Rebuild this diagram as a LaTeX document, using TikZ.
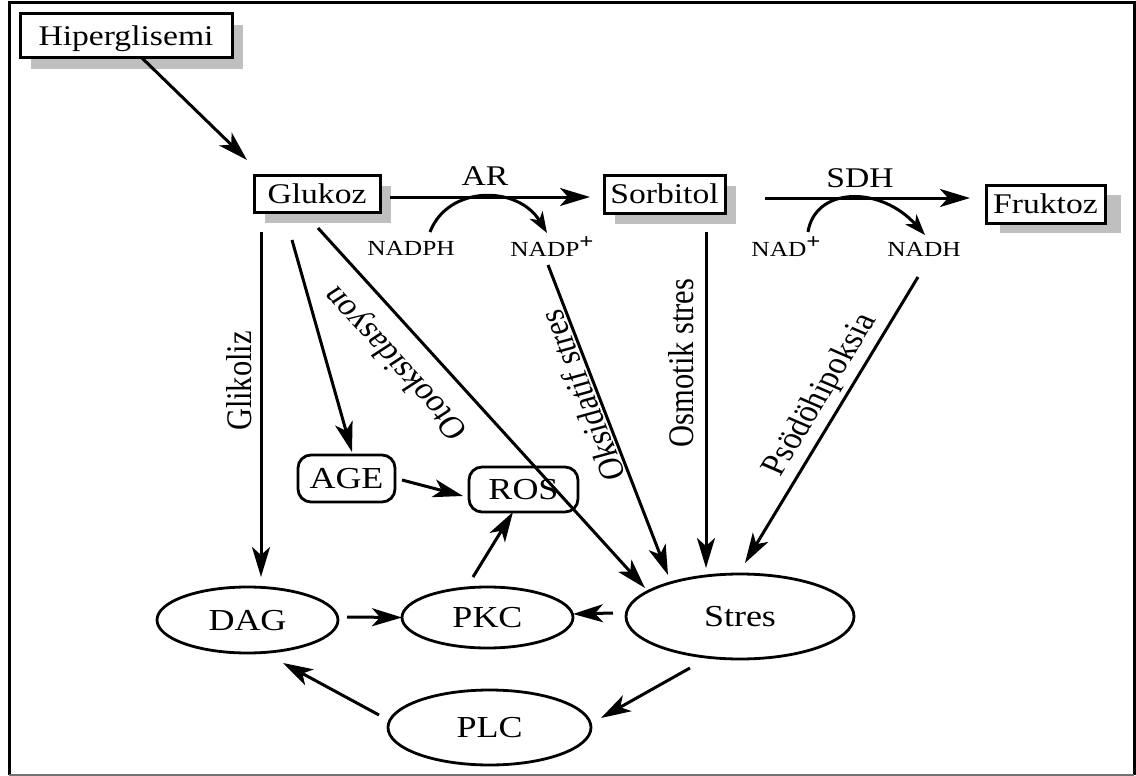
\documentclass[tikz,border=0pt]{standalone}
\usepackage{fontspec}
\setmainfont{Liberation Serif}
\usepackage{graphicx}
\usetikzlibrary{arrows.meta,calc,shapes.geometric,backgrounds}

% Times-like lettering, widened horizontally
\newcommand{\wide}[1]{\scalebox{1.18}[1]{#1}}
\newcommand{\ionplus}{\raisebox{0.36em}{\fontsize{21}{21}\selectfont\bfseries +}}

\begin{document}
\begin{tikzpicture}[x=1pt, y=-1pt,
  conn/.style={line width=3pt, -{Stealth[length=30pt,width=18pt,inset=8pt]}},
  cofactor/.style={line width=3pt, -{Stealth[length=21pt,width=15pt,inset=6pt]}},
  boxnode/.style={rectangle, draw, line width=3pt, fill=white, inner sep=0pt, outer sep=0pt,
      font=\fontsize{28.5}{30}\selectfont, text height=19pt, text depth=0pt},
  roundnode/.style={rectangle, rounded corners=13pt, draw, line width=2.8pt, inner sep=0pt, outer sep=0pt,
      font=\fontsize{30.5}{32}\selectfont, text height=20pt, text depth=0pt},
  ovalnode/.style={ellipse, draw, line width=2.8pt, inner sep=0pt, outer sep=0pt,
      font=\fontsize{30.5}{32}\selectfont, text height=20pt, text depth=0pt},
  enzyme/.style={inner sep=0pt, font=\fontsize{28.5}{30}\selectfont, text height=19pt, text depth=0pt},
  cofac/.style={inner sep=0pt, font=\fontsize{21.5}{23}\selectfont, text height=14.5pt, text depth=0pt},
  pathlabel/.style={inner sep=0pt, font=\fontsize{30.5}{32}\selectfont},
  shadowfill/.style={fill=black!25},
]
\useasboundingbox (0,0) rectangle (1136,776);

% outer frame
\draw[line width=3pt] (9,775) -- (9,3) -- (1134,3) -- (1134,775);
\draw[line width=2pt, black!55] (9,775) -- (1134,775);

% metabolites
\node[boxnode, minimum width=212pt, minimum height=44pt] (hyper) at (126,36) {\wide{Hiperglisemi}};
\node[boxnode, minimum width=126pt, minimum height=37pt] (glukoz) at (317,193.5) {\wide{Glukoz}};
\node[boxnode, minimum width=121pt, minimum height=38pt] (sorbitol) at (664.5,194) {\wide{Sorbitol}};
\node[boxnode, minimum width=119pt, minimum height=38pt] (fruktoz) at (1045.5,204) {\wide{Fruktoz}};

\node[roundnode, minimum width=97pt, minimum height=47pt] (age) at (346.5,478.5) {\wide{AGE}};
\node[roundnode, minimum width=109pt, minimum height=45pt] (ros) at (523.5,489.5) {\wide{ROS}};

\node[ovalnode, minimum width=181pt, minimum height=66pt] (dag) at (247.5,620) {\wide{DAG}};
\node[ovalnode, minimum width=171pt, minimum height=61pt] (pkc) at (487.5,617.5) {\wide{PKC}};
\node[ovalnode, minimum width=203pt, minimum height=75pt] (plc) at (489.5,727.5) {\wide{PLC}};
\node[ovalnode, minimum width=228pt, minimum height=85pt] (stres) at (740,616.5) {\wide{Stres}};

% drop shadows of the boxes
\begin{scope}[on background layer]
  \foreach \b in {hyper,glukoz,sorbitol}
    \fill[shadowfill] ($(\b.north west)+(11,11)$) rectangle ($(\b.south east)+(11,11)$);
  \fill[shadowfill] ($(fruktoz.north west)+(14,10)$) rectangle ($(fruktoz.south east)+(16,10)$);
\end{scope}

% enzymes and cofactors
\node[enzyme] (ar) at (485,176) {\wide{AR}};
\node[enzyme] (sdh) at (860,177.5) {\wide{SDH}};
\node[cofac] (nadph) at (411,248) {\wide{NADPH}};
\node[cofac] (nadp) at (552,249) {\wide{NADP\ionplus}};
\node[cofac] (nad) at (786,249) {\wide{NAD\ionplus}};
\node[cofac] (nadh) at (924,249) {\wide{NADH}};

% pathway labels
\node[pathlabel] (glikoliz) at (239,381) {\wide{\rotatebox{90}{Glikoliz}}};
\node[pathlabel] (otooks) at (397,362) {\wide{\rotatebox{127.6}{Otooksidasyon}}};
\node[pathlabel] (oksid) at (582,396) {\wide{\rotatebox{108}{Oksidatif stres}}};
\node[pathlabel] (osmotik) at (681,363) {\wide{\rotatebox{90}{Osmotik stres}}};
\node[pathlabel] (psodo) at (821,395) {\wide{\rotatebox{62.8}{Psödöhipoksia}}};

% polyol pathway
\draw[conn] ($(hyper.south)+(16,0)$) -- ($(glukoz.north)+(-70,-15)$);
\draw[conn] ($(glukoz.east)+(10,3.5)$) -- ($(sorbitol.west)+(-14,3)$);
\draw[conn] ($(sorbitol.east)+(40,4)$) -- ($(fruktoz.west)+(-16,-6)$);
\draw[cofactor] ($(nadph)+(19,-16)$) .. controls +(18,-47) and +(-29,-48) .. ($(nadp)+(-5,-16)$);
\draw[cofactor] ($(nad)+(22,-17)$) .. controls +(7,-45) and +(-45,-50) .. ($(nadh)+(1,-14)$);

% routes from glucose
\draw[conn] ($(glukoz.south)+(-56,20)$) -- ($(dag.north)+(13.5,-10)$);
\draw[conn] ($(glukoz.south)+(-25,28)$) -- ($(age.north)+(5.5,-3)$);
\draw[conn] ($(glukoz.south)+(1,16)$) -- ($(stres.west)+(19,-28.5)$);

% routes to stress
\draw[conn] ($(nadp)+(-4,16)$) -- ($(stres.north)+(-72,1)$);
\draw[conn] ($(sorbitol.south)+(41.5,19)$) -- ($(stres.north)+(-34,-6)$);
\draw[conn] ($(nadh)+(-6,28)$) -- ($(stres.north)+(5,-11)$);

% signalling loop
\draw[conn] ($(age.east)+(7,1.5)$) -- ($(ros.west)+(-6,6.5)$);
\draw[conn] ($(pkc.north)+(-14.5,-10)$) -- ($(ros.south)+(-10.5,0)$);
\draw[conn] ($(dag.east)+(9,-3)$) -- (pkc.west);
\draw[conn] ($(stres.west)+(-13,-3.5)$) -- ($(pkc.east)+(0,-3.5)$);
\draw[conn] ($(stres.south)+(-50,9)$) -- ($(plc.east)+(10,-9.5)$);
\draw[conn] ($(plc.west)+(-9,-12.5)$) -- ($(dag.south)+(35.5,10)$);
\end{tikzpicture}
\end{document}
